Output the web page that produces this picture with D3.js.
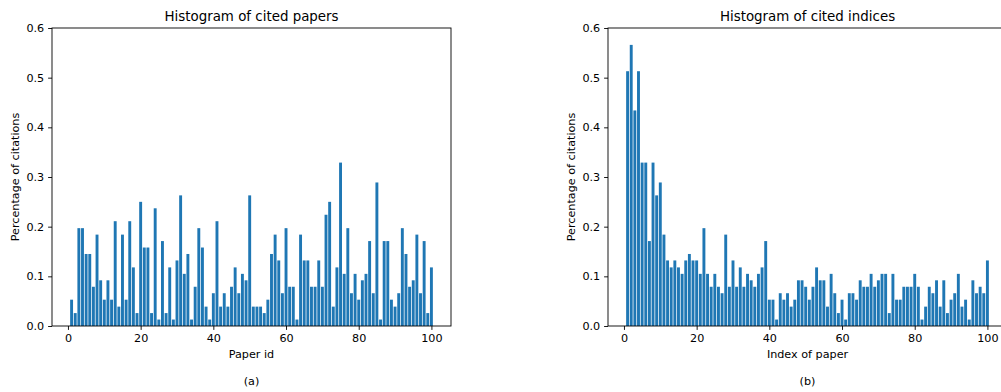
<!DOCTYPE html>
<html>
<head>
<meta charset="utf-8">
<script src="https://cdn.jsdelivr.net/npm/d3@7"></script>
<style>
  body { margin: 0; background: #fff; }
  svg { display: block; font-family: 'DejaVu Sans', sans-serif; }
</style>
</head>
<body>
<svg id="chart" width="1001" height="392"></svg>
<script>
// share of citations per paper id (1..100)
const paperIds = d3.range(1, 101);
const citedPapers = [
  0.053, 0.026, 0.197, 0.197, 0.145, 0.145, 0.079, 0.184, 0.092, 0.053,
  0.092, 0.053, 0.211, 0.039, 0.184, 0.053, 0.211, 0.118, 0.026, 0.250,
  0.158, 0.158, 0.026, 0.237, 0.013, 0.171, 0.026, 0.118, 0.013, 0.132,
  0.263, 0.105, 0.145, 0.013, 0.079, 0.197, 0.158, 0.039, 0.013, 0.066,
  0.211, 0.039, 0.066, 0.039, 0.079, 0.118, 0.066, 0.105, 0.092, 0.263,
  0.039, 0.039, 0.039, 0.026, 0.053, 0.145, 0.184, 0.132, 0.066, 0.197,
  0.079, 0.079, 0.013, 0.184, 0.132, 0.132, 0.079, 0.079, 0.132, 0.079,
  0.224, 0.250, 0.039, 0.118, 0.329, 0.105, 0.197, 0.066, 0.105, 0.053,
  0.092, 0.105, 0.171, 0.066, 0.289, 0.013, 0.171, 0.171, 0.053, 0.039,
  0.066, 0.197, 0.145, 0.079, 0.092, 0.184, 0.066, 0.171, 0.026, 0.118
];

// share of citations per index of paper (1..100)
const paperIndex = d3.range(1, 101);
const citedIndices = [
  0.513, 0.566, 0.434, 0.513, 0.329, 0.329, 0.171, 0.329, 0.263, 0.289,
  0.184, 0.132, 0.118, 0.132, 0.118, 0.105, 0.132, 0.145, 0.132, 0.132,
  0.105, 0.197, 0.105, 0.079, 0.105, 0.079, 0.066, 0.184, 0.079, 0.132,
  0.079, 0.118, 0.079, 0.105, 0.092, 0.079, 0.105, 0.118, 0.171, 0.053,
  0.053, 0.013, 0.066, 0.053, 0.066, 0.039, 0.053, 0.092, 0.092, 0.079,
  0.053, 0.079, 0.118, 0.092, 0.092, 0.039, 0.105, 0.066, 0.026, 0.053,
  0.013, 0.066, 0.066, 0.053, 0.092, 0.079, 0.079, 0.105, 0.079, 0.092,
  0.105, 0.105, 0.026, 0.105, 0.053, 0.053, 0.079, 0.079, 0.079, 0.105,
  0.079, 0.013, 0.039, 0.079, 0.066, 0.092, 0.039, 0.092, 0.026, 0.053,
  0.066, 0.105, 0.039, 0.053, 0.013, 0.092, 0.066, 0.079, 0.066, 0.132
];

const xTicks = [0, 20, 40, 60, 80, 100];
const yTicks = [0, 0.1, 0.2, 0.3, 0.4, 0.5, 0.6];

const panels = [
  { title: 'Histogram of cited papers', xLabel: 'Paper id', caption: '(a)', xs: paperIds, ys: citedPapers, left: 52 },
  { title: 'Histogram of cited indices', xLabel: 'Index of paper', caption: '(b)', xs: paperIndex, ys: citedIndices, left: 608 }
];

const svg = d3.select('#chart');
const plotTop = 28, plotBottom = 326, plotW = 399;
const tickLen = 3.9, tickPad = 3.9;

panels.forEach(p => {
  const g = svg.append('g');
  const x = d3.scaleLinear().domain([-4.39, 105.39]).range([p.left, p.left + plotW]);
  const y = d3.scaleLinear().domain([0, 0.6]).range([plotBottom, plotTop]);
  const bw = x(0.8) - x(0);

  g.selectAll('rect.bar')
    .data(p.xs.map((d, i) => ({ x: d, v: p.ys[i] })))
    .enter()
    .append('rect')
    .attr('class', 'bar')
    .attr('x', d => x(d.x - 0.4))
    .attr('y', d => y(d.v))
    .attr('width', bw)
    .attr('height', d => y(0) - y(d.v))
    .attr('fill', '#1f77b4');

  const xAxis = g.append('g')
    .attr('transform', `translate(0,${plotBottom})`)
    .call(d3.axisBottom(x).tickValues(xTicks).tickFormat(d3.format('d')).tickSize(tickLen).tickPadding(tickPad));
  const yAxis = g.append('g')
    .attr('transform', `translate(${p.left},0)`)
    .call(d3.axisLeft(y).tickValues(yTicks).tickFormat(d3.format('.1f')).tickSize(tickLen).tickPadding(tickPad));

  [xAxis, yAxis].forEach(a => {
    a.select('.domain').remove();
    a.selectAll('.tick line').attr('stroke', '#000').attr('stroke-width', 0.9);
    a.selectAll('.tick text').attr('fill', '#000').style('font-size', '11.2px').style('font-family', "'DejaVu Sans', sans-serif");
  });

  // frame
  g.append('rect')
    .attr('x', p.left).attr('y', plotTop)
    .attr('width', plotW).attr('height', plotBottom - plotTop)
    .attr('fill', 'none').attr('stroke', '#000').attr('stroke-width', 0.9);

  const cx = p.left + plotW / 2;
  g.append('text').attr('x', cx).attr('y', 21)
    .attr('text-anchor', 'middle').style('font-size', '13.4px').text(p.title);
  g.append('text').attr('x', cx).attr('y', 358)
    .attr('text-anchor', 'middle').style('font-size', '11.2px').text(p.xLabel);
  g.append('text').attr('x', cx).attr('y', 385)
    .attr('text-anchor', 'middle').style('font-size', '11.2px').text(p.caption);
  g.append('text')
    .attr('transform', `translate(${p.left - 33},${(plotTop + plotBottom) / 2}) rotate(-90)`)
    .attr('text-anchor', 'middle').style('font-size', '11.2px').text('Percentage of citations');
});
</script>
</body>
</html>
